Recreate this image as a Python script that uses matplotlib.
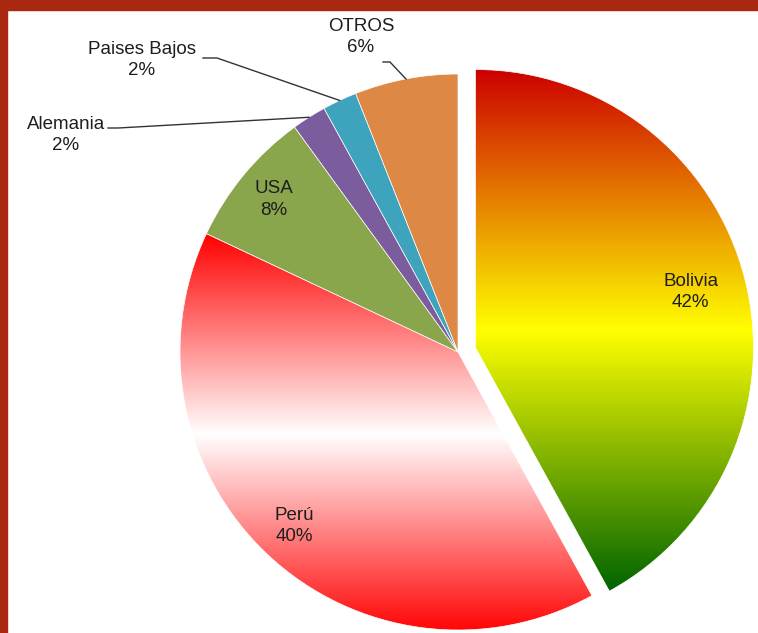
import numpy as np
import matplotlib
matplotlib.use("Agg")
import matplotlib.pyplot as plt
from matplotlib.colors import LinearSegmentedColormap
from matplotlib.patches import Rectangle

W, H = 758, 633

countries = ["Bolivia", "Perú", "USA", "Alemania", "Paises Bajos", "OTROS"]
shares = [42, 40, 8, 2, 2, 6]
pct_labels = ["42%", "40%", "8%", "2%", "2%", "6%"]
flat_colors = ["none", "none", "#8aa64c", "#7b5c9c", "#3ea3bd", "#dd8845"]
explode = [18, 0, 0, 0, 0, 0]

bolivia_grad = ["#cc0000", "#ffff00", "#006400"]
peru_grad = ["#ff0000", "#ffffff", "#ff0000"]

# layout (image pixels, y measured from top)
CENTER = (458, H - 352)
RADIUS = 278
inside_dist = {"Bolivia": 0.80, "Perú": 0.86, "USA": 0.86}
outside_text = {"Alemania": (66, 135), "Paises Bajos": (142, 60), "OTROS": (361, 37)}
leader_start = {"Alemania": [(108, 128), (118, 128)],
                "Paises Bajos": [(203, 58), (217, 58)],
                "OTROS": [(383, 62), (390, 62)]}

plt.rcParams["font.family"] = ["Liberation Sans", "DejaVu Sans"]
TXT = "#1e1e1e"
FS = 13.5

fig = plt.figure(figsize=(W / 100, H / 100), dpi=100)
fig.patch.set_facecolor("white")
ax = fig.add_axes([0, 0, 1, 1])

wedges, _ = ax.pie(shares, colors=flat_colors, explode=explode, startangle=90,
                   counterclock=False, center=CENTER, radius=RADIUS,
                   wedgeprops={"edgecolor": "white", "linewidth": 0.5})


def fill_gradient(wedge, stops):
    verts = wedge.get_path().vertices
    x0, x1 = verts[:, 0].min(), verts[:, 0].max()
    y0, y1 = verts[:, 1].min(), verts[:, 1].max()
    cmap = LinearSegmentedColormap.from_list("g", stops)
    grad = np.linspace(0, 1, 256).reshape(-1, 1)
    im = ax.imshow(grad, cmap=cmap, aspect="auto", origin="upper",
                   extent=[x0, x1, y0, y1], zorder=0.5, interpolation="bilinear")
    im.set_clip_path(wedge)


fill_gradient(wedges[0], bolivia_grad)
fill_gradient(wedges[1], peru_grad)

for w, name, pct in zip(wedges, countries, pct_labels):
    mid = np.deg2rad((w.theta1 + w.theta2) / 2)
    cx, cy = w.center
    if name in inside_dist:
        d = inside_dist[name] * w.r
        ax.text(cx + d * np.cos(mid), cy + d * np.sin(mid), f"{name}\n{pct}",
                ha="center", va="center", fontsize=FS, color=TXT, linespacing=1.33)
    else:
        tx, ty = outside_text[name]
        ax.text(tx, H - ty, f"{name}\n{pct}", ha="center", va="center",
                fontsize=FS, color=TXT, linespacing=1.33)
        pts = [(px, H - py) for px, py in leader_start[name]]
        pts.append((cx + w.r * np.cos(mid), cy + w.r * np.sin(mid)))
        xs, ys = zip(*pts)
        ax.plot(xs, ys, color="#333333", lw=1.0, zorder=3)

# dark red frame on top and left
ax.add_patch(Rectangle((0, H - 10), W, 10, color="#a8290f", zorder=5))
ax.add_patch(Rectangle((0, 0), 7, H, color="#a8290f", zorder=5))

ax.set_xlim(0, W)
ax.set_ylim(0, H)
ax.set_aspect("equal")
ax.axis("off")

fig.savefig("out.png", dpi=100)
